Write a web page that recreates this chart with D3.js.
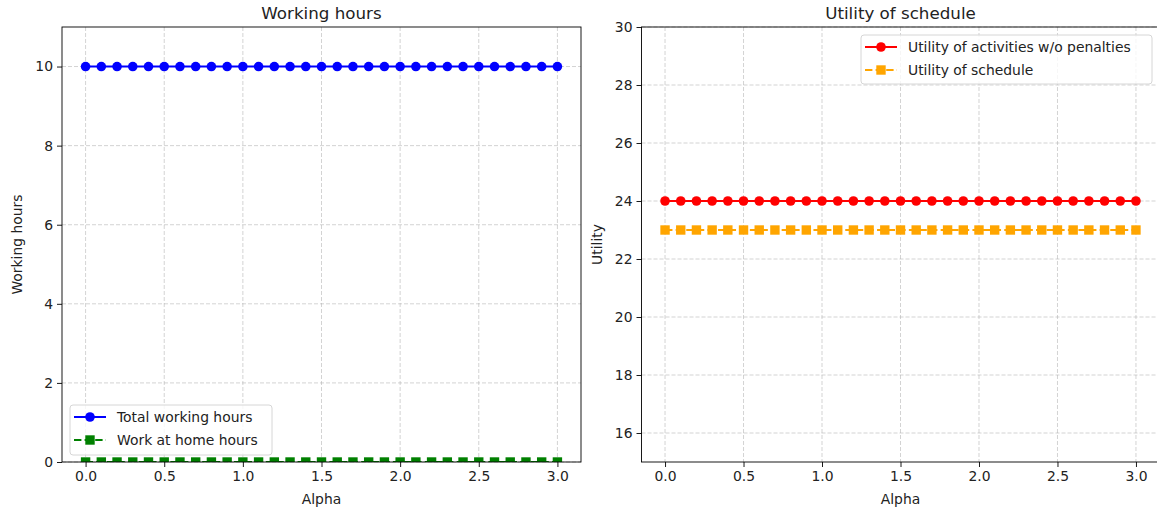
<!DOCTYPE html>
<html>
<head>
<meta charset="utf-8">
<script src="https://cdn.jsdelivr.net/npm/d3@7"></script>
<style>
  html, body { margin: 0; padding: 0; background: #fff; }
  svg { display: block; font-family: "DejaVu Sans", sans-serif; }
</style>
</head>
<body>
<svg id="chart" width="1157" height="511"></svg>
<script>
const alpha = [0.0, 0.1, 0.2, 0.3, 0.4, 0.5, 0.6, 0.7, 0.8, 0.9, 1.0, 1.1, 1.2, 1.3, 1.4, 1.5, 1.6, 1.7, 1.8, 1.9, 2.0, 2.1, 2.2, 2.3, 2.4, 2.5, 2.6, 2.7, 2.8, 2.9, 3.0];
const totalWorkingHours = [10, 10, 10, 10, 10, 10, 10, 10, 10, 10, 10, 10, 10, 10, 10, 10, 10, 10, 10, 10, 10, 10, 10, 10, 10, 10, 10, 10, 10, 10, 10];
const workAtHomeHours = [0, 0, 0, 0, 0, 0, 0, 0, 0, 0, 0, 0, 0, 0, 0, 0, 0, 0, 0, 0, 0, 0, 0, 0, 0, 0, 0, 0, 0, 0, 0];
const utilityActivities = [24, 24, 24, 24, 24, 24, 24, 24, 24, 24, 24, 24, 24, 24, 24, 24, 24, 24, 24, 24, 24, 24, 24, 24, 24, 24, 24, 24, 24, 24, 24];
const utilitySchedule = [23, 23, 23, 23, 23, 23, 23, 23, 23, 23, 23, 23, 23, 23, 23, 23, 23, 23, 23, 23, 23, 23, 23, 23, 23, 23, 23, 23, 23, 23, 23];
const xTicks = [0.0, 0.5, 1.0, 1.5, 2.0, 2.5, 3.0];
const leftYTicks = [0, 2, 4, 6, 8, 10];
const rightYTicks = [16, 18, 20, 22, 24, 26, 28, 30];

const svg = d3.select("#chart");

function panel(cfg) {
  const g = svg.append("g");
  const x = d3.scaleLinear().domain([-0.15, 3.15]).range([cfg.left, cfg.right]);
  const y = d3.scaleLinear().domain(cfg.yDomain).range([cfg.bottom, cfg.top]);
  const clipId = "clip" + cfg.id;
  svg.append("clipPath").attr("id", clipId).append("rect")
    .attr("x", cfg.left).attr("y", cfg.top)
    .attr("width", cfg.right - cfg.left).attr("height", cfg.bottom - cfg.top);

  // grid
  const grid = g.append("g").attr("stroke", "#b0b0b0").attr("stroke-opacity", 0.7)
    .attr("stroke-width", 0.8).attr("stroke-dasharray", "4,2");
  xTicks.forEach(t => grid.append("line").attr("x1", x(t)).attr("x2", x(t)).attr("y1", cfg.top).attr("y2", cfg.bottom));
  cfg.yTicks.forEach(t => grid.append("line").attr("x1", cfg.left).attr("x2", cfg.right).attr("y1", y(t)).attr("y2", y(t)));

  // series
  const plot = g.append("g").attr("clip-path", `url(#${clipId})`);
  cfg.series.forEach(s => {
    const pts = alpha.map((a, i) => [a, s.values[i]]);
    plot.append("path").datum(pts)
      .attr("d", d3.line().x(d => x(d[0])).y(d => y(d[1])))
      .attr("fill", "none").attr("stroke", s.color).attr("stroke-width", 2)
      .attr("stroke-dasharray", s.dash ? "7.4,3.2" : null);
    pts.forEach(d => {
      if (s.marker === "o") {
        plot.append("circle").attr("cx", x(d[0])).attr("cy", y(d[1])).attr("r", 4.8).attr("fill", s.color);
      } else {
        plot.append("rect").attr("x", x(d[0]) - 4.7).attr("y", y(d[1]) - 4.7)
          .attr("width", 9.4).attr("height", 9.4).attr("fill", s.color);
      }
    });
  });

  // axes
  const xAxis = d3.axisBottom(x).tickValues(xTicks).tickFormat(d3.format(".1f")).tickSizeInner(5).tickSizeOuter(0).tickPadding(4);
  const gx = g.append("g").attr("transform", `translate(0,${cfg.bottom})`).call(xAxis);
  const yAxis = d3.axisLeft(y).tickValues(cfg.yTicks).tickFormat(d3.format("d")).tickSizeInner(5).tickSizeOuter(0).tickPadding(4);
  const gy = g.append("g").attr("transform", `translate(${cfg.left},0)`).call(yAxis);
  [gx, gy].forEach(a => {
    a.select(".domain").remove();
    a.selectAll("line").attr("stroke", "#000").attr("stroke-width", 0.9);
    a.selectAll("text").attr("font-size", 13.9).attr("fill", "#222").attr("font-family", "DejaVu Sans");
  });

  // spines
  g.append("rect").attr("x", cfg.left).attr("y", cfg.top)
    .attr("width", cfg.right - cfg.left).attr("height", cfg.bottom - cfg.top)
    .attr("fill", "none").attr("stroke", "#000").attr("stroke-width", 0.9);

  // titles & labels
  g.append("text").attr("x", (cfg.left + cfg.right) / 2).attr("y", 18.5)
    .attr("text-anchor", "middle").attr("font-size", 16.7).attr("fill", "#222").text(cfg.title);
  g.append("text").attr("x", x(1.5)).attr("y", 504)
    .attr("text-anchor", "middle").attr("font-size", 13.9).attr("fill", "#222").text("Alpha");
  g.append("text").attr("transform", `translate(${cfg.ylabelX},${(cfg.top + cfg.bottom) / 2}) rotate(-90)`)
    .attr("text-anchor", "middle").attr("font-size", 13.9).attr("fill", "#222").text(cfg.ylabel);

  // legend
  const lg = g.append("g");
  lg.append("rect").attr("x", cfg.legend.x).attr("y", cfg.legend.y)
    .attr("width", cfg.legend.w).attr("height", cfg.legend.h).attr("rx", 3)
    .attr("fill", "#fff").attr("fill-opacity", 0.8).attr("stroke", "#d6d6d6").attr("stroke-width", 1);
  cfg.series.forEach((s, i) => {
    const yy = cfg.legend.y + 12 + i * 23;
    const x0 = cfg.legend.x + 4, x1 = x0 + 32, xm = (x0 + x1) / 2;
    lg.append("line").attr("x1", x0).attr("x2", x1).attr("y1", yy).attr("y2", yy)
      .attr("stroke", s.color).attr("stroke-width", 2).attr("stroke-dasharray", s.dash ? "7.4,3.2" : null);
    if (s.marker === "o") lg.append("circle").attr("cx", xm).attr("cy", yy).attr("r", 4.8).attr("fill", s.color);
    else lg.append("rect").attr("x", xm - 4.7).attr("y", yy - 4.7).attr("width", 9.4).attr("height", 9.4).attr("fill", s.color);
    lg.append("text").attr("x", x1 + 11).attr("y", yy).attr("dy", "0.35em")
      .attr("font-size", 13.9).attr("fill", "#222").text(s.label);
  });
}

panel({
  id: "L", left: 62, right: 581, top: 27, bottom: 462, yDomain: [0, 11], yTicks: leftYTicks,
  title: "Working hours", ylabel: "Working hours", ylabelX: 22,
  legend: { x: 70, y: 405, w: 202, h: 50 },
  series: [
    { values: totalWorkingHours, color: "blue", marker: "o", dash: false, label: "Total working hours" },
    { values: workAtHomeHours, color: "green", marker: "s", dash: true, label: "Work at home hours" }
  ]
});

panel({
  id: "R", left: 641.5, right: 1159.5, top: 27, bottom: 462, yDomain: [15, 30], yTicks: rightYTicks,
  title: "Utility of schedule", ylabel: "Utility", ylabelX: 602,
  legend: { x: 861, y: 35, w: 291, h: 49 },
  series: [
    { values: utilityActivities, color: "red", marker: "o", dash: false, label: "Utility of activities w/o penalties" },
    { values: utilitySchedule, color: "orange", marker: "s", dash: true, label: "Utility of schedule" }
  ]
});
</script>
</body>
</html>
